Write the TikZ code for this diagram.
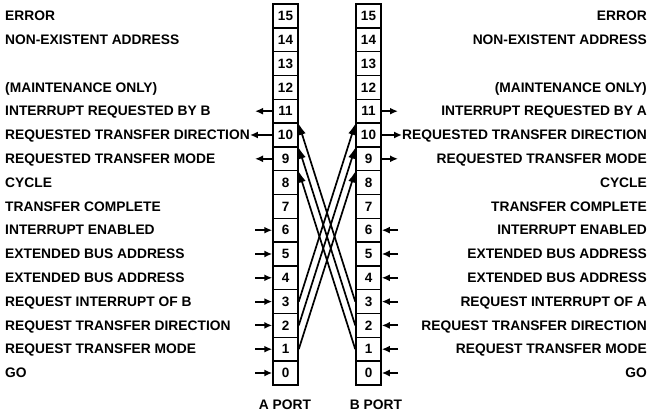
\documentclass[tikz,border=0pt]{standalone}
\usepackage{fontspec}
\setmainfont{Liberation Sans}
\usetikzlibrary{arrows.meta}
\tikzstyle{zelle} = [draw, line width=1.5pt, minimum width=25pt, minimum height=23.8pt, inner sep=0pt, font=\bfseries\fontsize{13.5}{14}\selectfont]
\tikzstyle{textlinks} = [anchor=west, inner sep=0pt, text height=9.5pt, text depth=0pt, font=\bfseries\fontsize{13.8}{14}\selectfont]
\tikzstyle{textrechts} = [anchor=east, inner sep=0pt, text height=9.5pt, text depth=0pt, font=\bfseries\fontsize{13.8}{14}\selectfont]
\tikzstyle{pfeil} = [line width=2pt, -{Latex[length=8pt,width=7pt]}]
\tikzstyle{kreuz} = [line width=1.7pt, -{Latex[length=11pt,width=7.5pt]}]

\begin{document}
\begin{tikzpicture}[x=1pt, y=1pt]
\useasboundingbox (0,0) rectangle (652,419);

% A port
\node (a15) [zelle] at (285.5,403) {15};
\node (a14) [zelle] at (285.5,379.2) {14};
\node (a13) [zelle] at (285.5,355.4) {13};
\node (a12) [zelle] at (285.5,331.6) {12};
\node (a11) [zelle] at (285.5,307.8) {11};
\node (a10) [zelle] at (285.5,284) {10};
\node (a9) [zelle] at (285.5,260.2) {9};
\node (a8) [zelle] at (285.5,236.4) {8};
\node (a7) [zelle] at (285.5,212.6) {7};
\node (a6) [zelle] at (285.5,188.8) {6};
\node (a5) [zelle] at (285.5,165) {5};
\node (a4) [zelle] at (285.5,141.2) {4};
\node (a3) [zelle] at (285.5,117.4) {3};
\node (a2) [zelle] at (285.5,93.6) {2};
\node (a1) [zelle] at (285.5,69.8) {1};
\node (a0) [zelle] at (285.5,46) {0};

% B port
\node (b15) [zelle] at (368.5,403) {15};
\node (b14) [zelle] at (368.5,379.2) {14};
\node (b13) [zelle] at (368.5,355.4) {13};
\node (b12) [zelle] at (368.5,331.6) {12};
\node (b11) [zelle] at (368.5,307.8) {11};
\node (b10) [zelle] at (368.5,284) {10};
\node (b9) [zelle] at (368.5,260.2) {9};
\node (b8) [zelle] at (368.5,236.4) {8};
\node (b7) [zelle] at (368.5,212.6) {7};
\node (b6) [zelle] at (368.5,188.8) {6};
\node (b5) [zelle] at (368.5,165) {5};
\node (b4) [zelle] at (368.5,141.2) {4};
\node (b3) [zelle] at (368.5,117.4) {3};
\node (b2) [zelle] at (368.5,93.6) {2};
\node (b1) [zelle] at (368.5,69.8) {1};
\node (b0) [zelle] at (368.5,46) {0};

\node (aport) [textlinks, anchor=center] at (285,14) {A PORT};
\node (bport) [textlinks, anchor=center] at (376,14) {B PORT};

% labels A side
\node (la15) [textlinks] at (5,403) {ERROR};
\node (la14) [textlinks] at (5,379.2) {NON-EXISTENT ADDRESS};
\node (la12) [textlinks] at (5,331.6) {(MAINTENANCE ONLY)};
\node (la11) [textlinks] at (5,307.8) {INTERRUPT REQUESTED BY B};
\node (la10) [textlinks] at (5,284) {REQUESTED TRANSFER DIRECTION};
\node (la9) [textlinks] at (5,260.2) {REQUESTED TRANSFER MODE};
\node (la8) [textlinks] at (5,236.4) {CYCLE};
\node (la7) [textlinks] at (5,212.6) {TRANSFER COMPLETE};
\node (la6) [textlinks] at (5,188.8) {INTERRUPT ENABLED};
\node (la5) [textlinks] at (5,165) {EXTENDED BUS ADDRESS};
\node (la4) [textlinks] at (5,141.2) {EXTENDED BUS ADDRESS};
\node (la3) [textlinks] at (5,117.4) {REQUEST INTERRUPT OF B};
\node (la2) [textlinks] at (5,93.6) {REQUEST TRANSFER DIRECTION};
\node (la1) [textlinks] at (5,69.8) {REQUEST TRANSFER MODE};
\node (la0) [textlinks] at (5,46) {GO};

% labels B side
\node (lb15) [textrechts] at (647,403) {ERROR};
\node (lb14) [textrechts] at (647,379.2) {NON-EXISTENT ADDRESS};
\node (lb12) [textrechts] at (647,331.6) {(MAINTENANCE ONLY)};
\node (lb11) [textrechts] at (647,307.8) {INTERRUPT REQUESTED BY A};
\node (lb10) [textrechts] at (647,284) {REQUESTED TRANSFER DIRECTION};
\node (lb9) [textrechts] at (647,260.2) {REQUESTED TRANSFER MODE};
\node (lb8) [textrechts] at (647,236.4) {CYCLE};
\node (lb7) [textrechts] at (647,212.6) {TRANSFER COMPLETE};
\node (lb6) [textrechts] at (647,188.8) {INTERRUPT ENABLED};
\node (lb5) [textrechts] at (647,165) {EXTENDED BUS ADDRESS};
\node (lb4) [textrechts] at (647,141.2) {EXTENDED BUS ADDRESS};
\node (lb3) [textrechts] at (647,117.4) {REQUEST INTERRUPT OF A};
\node (lb2) [textrechts] at (647,93.6) {REQUEST TRANSFER DIRECTION};
\node (lb1) [textrechts] at (647,69.8) {REQUEST TRANSFER MODE};
\node (lb0) [textrechts] at (647,46) {GO};

% free ends of the short arrows
\coordinate (ea11) at (255,307.8);
\coordinate (ea9) at (255,260.2);
\coordinate (ea6) at (255,188.8);
\coordinate (ea5) at (255,165);
\coordinate (ea4) at (255,141.2);
\coordinate (ea3) at (255,117.4);
\coordinate (ea2) at (255,93.6);
\coordinate (ea1) at (255,69.8);
\coordinate (ea0) at (255,46);
\coordinate (eb11) at (398,307.8);
\coordinate (eb9) at (398,260.2);
\coordinate (eb6) at (398,188.8);
\coordinate (eb5) at (398,165);
\coordinate (eb4) at (398,141.2);
\coordinate (eb3) at (398,117.4);
\coordinate (eb2) at (398,93.6);
\coordinate (eb1) at (398,69.8);
\coordinate (eb0) at (398,46);

% outputs
\draw[pfeil] (a11.west) -- (ea11);
\draw[pfeil] (a10.west) -- (la10.east);
\draw[pfeil] (a9.west) -- (ea9);
\draw[pfeil] (b11.east) -- (eb11);
\draw[pfeil] (b10.east) -- (lb10.west);
\draw[pfeil] (b9.east) -- (eb9);

% inputs
\draw[pfeil] (ea6) -- (a6.west);
\draw[pfeil] (ea5) -- (a5.west);
\draw[pfeil] (ea4) -- (a4.west);
\draw[pfeil] (ea3) -- (a3.west);
\draw[pfeil] (ea2) -- (a2.west);
\draw[pfeil] (ea1) -- (a1.west);
\draw[pfeil] (ea0) -- (a0.west);
\draw[pfeil] (eb6) -- (b6.east);
\draw[pfeil] (eb5) -- (b5.east);
\draw[pfeil] (eb4) -- (b4.east);
\draw[pfeil] (eb3) -- (b3.east);
\draw[pfeil] (eb2) -- (b2.east);
\draw[pfeil] (eb1) -- (b1.east);
\draw[pfeil] (eb0) -- (b0.east);

% crossing
\draw[kreuz] (a3.east) -- (b11.south west);
\draw[kreuz] (a2.east) -- (b10.south west);
\draw[kreuz] (a1.east) -- (b9.south west);
\draw[kreuz] (b3.west) -- (a11.south east);
\draw[kreuz] (b2.west) -- (a10.south east);
\draw[kreuz] (b1.west) -- (a9.south east);

\end{tikzpicture}
\end{document}
